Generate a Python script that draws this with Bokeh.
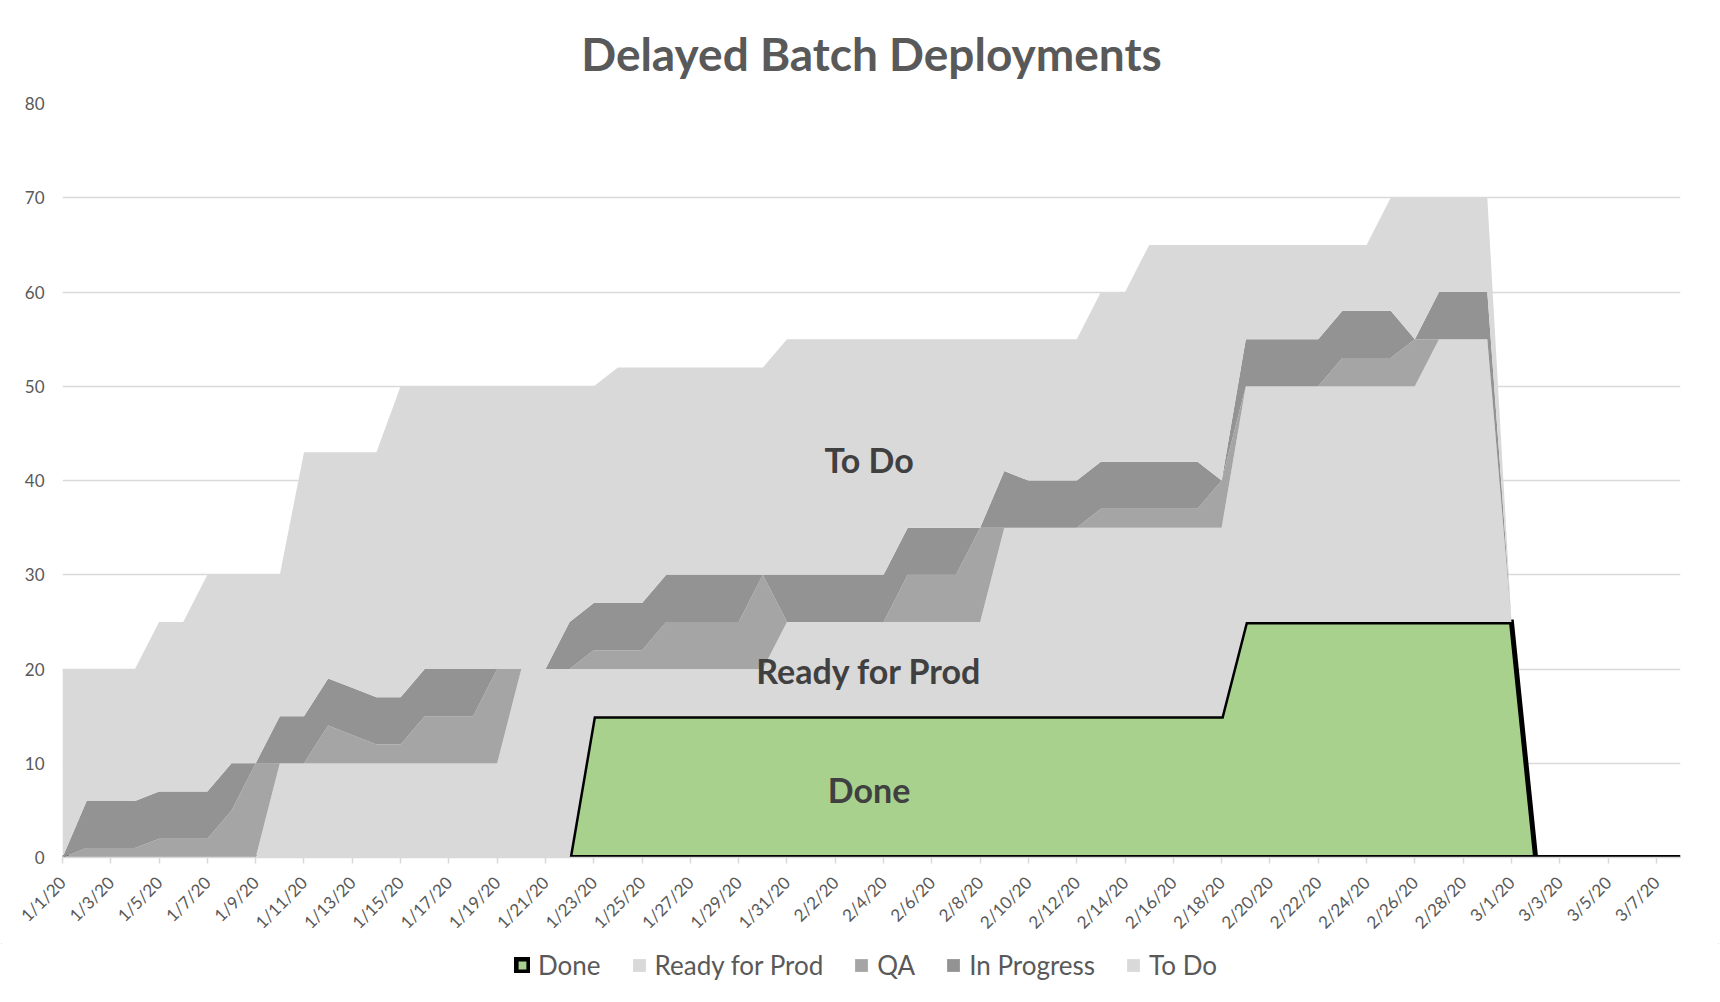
import math
import numpy as np
from bokeh.plotting import figure
from bokeh.layouts import column
from bokeh.models import FixedTicker, Legend, LegendItem, Range1d
from bokeh.embed import file_html
from bokeh.resources import INLINE
from bokeh.core.properties import value

# ---------------- data ----------------
dates = [
    "1/1/20", "1/2/20", "1/3/20", "1/4/20", "1/5/20", "1/6/20", "1/7/20", "1/8/20", "1/9/20", "1/10/20",
    "1/11/20", "1/12/20", "1/13/20", "1/14/20", "1/15/20", "1/16/20", "1/17/20", "1/18/20", "1/19/20", "1/20/20",
    "1/21/20", "1/22/20", "1/23/20", "1/24/20", "1/25/20", "1/26/20", "1/27/20", "1/28/20", "1/29/20", "1/30/20",
    "1/31/20", "2/1/20", "2/2/20", "2/3/20", "2/4/20", "2/5/20", "2/6/20", "2/7/20", "2/8/20", "2/9/20",
    "2/10/20", "2/11/20", "2/12/20", "2/13/20", "2/14/20", "2/15/20", "2/16/20", "2/17/20", "2/18/20", "2/19/20",
    "2/20/20", "2/21/20", "2/22/20", "2/23/20", "2/24/20", "2/25/20", "2/26/20", "2/27/20", "2/28/20", "2/29/20",
    "3/1/20", "3/2/20", "3/3/20", "3/4/20", "3/5/20", "3/6/20", "3/7/20", "3/8/20",
]

done = [
    0, 0, 0, 0, 0, 0, 0, 0, 0, 0,
    0, 0, 0, 0, 0, 0, 0, 0, 0, 0,
    0, 0, 15, 15, 15, 15, 15, 15, 15, 15,
    15, 15, 15, 15, 15, 15, 15, 15, 15, 15,
    15, 15, 15, 15, 15, 15, 15, 15, 15, 25,
    25, 25, 25, 25, 25, 25, 25, 25, 25, 25,
    25, 0, 0, 0, 0, 0, 0, 0,
]
ready_for_prod = [
    0, 0, 0, 0, 0, 0, 0, 0, 0, 10,
    10, 10, 10, 10, 10, 10, 10, 10, 10, 20,
    20, 20, 5, 5, 5, 5, 5, 5, 5, 5,
    10, 10, 10, 10, 10, 10, 10, 10, 10, 20,
    20, 20, 20, 20, 20, 20, 20, 20, 20, 25,
    25, 25, 25, 25, 25, 25, 25, 30, 30, 30,
    0, 0, 0, 0, 0, 0, 0, 0,
]
qa = [
    0, 1, 1, 1, 2, 2, 2, 5, 10, 0,
    0, 4, 3, 2, 2, 5, 5, 5, 10, 0,
    0, 0, 2, 2, 2, 5, 5, 5, 5, 10,
    0, 0, 0, 0, 0, 5, 5, 5, 10, 0,
    0, 0, 0, 2, 2, 2, 2, 2, 5, 0,
    0, 0, 0, 3, 3, 3, 5, 0, 0, 0,
    0, 0, 0, 0, 0, 0, 0, 0,
]
in_progress = [
    0, 5, 5, 5, 5, 5, 5, 5, 0, 5,
    5, 5, 5, 5, 5, 5, 5, 5, 0, 0,
    0, 5, 5, 5, 5, 5, 5, 5, 5, 0,
    5, 5, 5, 5, 5, 5, 5, 5, 0, 6,
    5, 5, 5, 5, 5, 5, 5, 5, 0, 5,
    5, 5, 5, 5, 5, 5, 0, 5, 5, 5,
    0, 0, 0, 0, 0, 0, 0, 0,
]
to_do = [
    20, 14, 14, 14, 18, 18, 23, 20, 20, 15,
    28, 24, 25, 26, 33, 30, 30, 30, 30, 30,
    30, 25, 23, 25, 25, 22, 22, 22, 22, 22,
    25, 25, 25, 25, 25, 20, 20, 20, 20, 14,
    15, 15, 15, 18, 18, 23, 23, 23, 25, 10,
    10, 10, 10, 7, 7, 12, 15, 10, 10, 10,
    0, 0, 0, 0, 0, 0, 0, 0,
]

series_names = ["Done", "Ready for Prod", "QA", "In Progress", "To Do"]
series_colors = ["#a9d18e", "#d9d9d9", "#a5a5a5", "#939393", "#d9d9d9"]
y_ticks = [0, 10, 20, 30, 40, 50, 60, 70, 80]

# ---------------- figure ----------------
FONT = "Lato"
GRAY_TXT = "#595959"
W, H = 1720, 1002
LEG_H = 59

x = np.arange(len(dates))
c_done = np.array(done, dtype=float)
c_rfp = c_done + np.array(ready_for_prod)
c_qa = c_rfp + np.array(qa)
c_ip = c_qa + np.array(in_progress)
c_todo = c_ip + np.array(to_do)

p = figure(width=W, height=H - LEG_H, output_backend="svg", toolbar_location=None,
           x_range=Range1d(0, len(dates) - 1), y_range=Range1d(0, 80),
           min_border_left=62, min_border_right=40, min_border_top=103, min_border_bottom=80)
p.outline_line_color = None
p.background_fill_color = "white"
p.border_fill_color = "white"

# title
p.title.text = "Delayed Batch Deployments"
p.title.align = "center"
p.title.text_font = FONT
p.title.text_font_style = "bold"
p.title.text_font_size = "46px"
p.title.text_color = GRAY_TXT
p.title.standoff = 46

# areas
xs_done = np.concatenate([x, x[::-1]])
ys_done = np.concatenate([c_done, np.zeros_like(c_done)])
p.patch(xs_done, ys_done, fill_color=series_colors[0], line_color="black",
        line_width=5, line_join="miter")
p.varea(x=x, y1=c_done, y2=c_rfp, fill_color=series_colors[1])
p.varea(x=x, y1=c_rfp, y2=c_qa, fill_color=series_colors[2])
p.varea(x=x, y1=c_qa, y2=c_ip, fill_color=series_colors[3])
p.varea(x=x, y1=c_ip, y2=c_todo, fill_color=series_colors[4])

# in-chart labels
lab_kw = dict(text_align="center", text_baseline="middle", text_font=value(FONT),
              text_font_style="bold", text_font_size="34px", text_color="#404040")
p.text(x=[33.4], y=[42.2], text=["To Do"], **lab_kw)
p.text(x=[33.4], y=[19.8], text=["Ready for Prod"], **lab_kw)
p.text(x=[33.4], y=[7.2], text=["Done"], **lab_kw)

# grid
p.xgrid.grid_line_color = None
p.ygrid.grid_line_color = "#d9d9d9"
p.ygrid.grid_line_width = 1.5
p.ygrid.ticker = FixedTicker(ticks=y_ticks)

# y axis
p.yaxis.ticker = FixedTicker(ticks=y_ticks)
p.yaxis.axis_line_color = None
p.yaxis.major_tick_line_color = None
p.yaxis.minor_tick_line_color = None
p.yaxis.major_label_standoff = 12
p.yaxis.major_label_text_font = FONT
p.yaxis.major_label_text_font_size = "17px"
p.yaxis.major_label_text_color = GRAY_TXT

# x axis
xt = list(range(0, len(dates), 2))
p.xaxis.ticker = FixedTicker(ticks=xt)
p.xaxis.major_label_overrides = {i: dates[i] for i in xt}
p.xaxis.major_label_orientation = math.pi / 4
p.xaxis.axis_line_color = "#d9d9d9"
p.xaxis.axis_line_width = 1.5
p.xaxis.major_tick_line_color = "#d9d9d9"
p.xaxis.major_tick_line_width = 1.5
p.xaxis.major_tick_out = 6
p.xaxis.major_tick_in = 0
p.xaxis.minor_tick_line_color = None
p.xaxis.major_label_standoff = 16
p.xaxis.major_label_text_font = FONT
p.xaxis.major_label_text_font_size = "17px"
p.xaxis.major_label_text_color = GRAY_TXT

# ---------------- legend strip ----------------
pl = figure(width=W, height=LEG_H, output_backend="svg", toolbar_location=None,
            x_range=Range1d(0, 1), y_range=Range1d(0, 1),
            min_border=0, x_axis_type=None, y_axis_type=None)
pl.outline_line_color = None
pl.grid.visible = False
# legend-only proxies, kept outside the visible range
lr_done = pl.patch([5, 6, 6], [5, 5, 6], fill_color=series_colors[0], line_color="black",
                   line_width=5, line_join="miter")
lr_other = [pl.varea(x=[5, 6], y1=[5, 5], y2=[6, 6], fill_color=c) for c in series_colors[1:]]
renderers = [lr_done] + lr_other
legend = Legend(items=[LegendItem(label=n, renderers=[r]) for n, r in zip(series_names, renderers)],
                orientation="horizontal", location=(452, 21))
legend.border_line_color = None
legend.background_fill_alpha = 0
legend.label_text_font = FONT
legend.label_text_font_size = "26px"
legend.label_text_color = GRAY_TXT
legend.glyph_width = 16
legend.glyph_height = 16
legend.label_standoff = 8
legend.spacing = 30
legend.padding = 6
legend.margin = 0
pl.add_layout(legend, "center")

layout = column(p, pl, spacing=0)
layout.styles = {"outline": "1px solid #d9d9d9", "outline-offset": "-2px"}

open("out.html", "w").write(file_html(layout, INLINE))
